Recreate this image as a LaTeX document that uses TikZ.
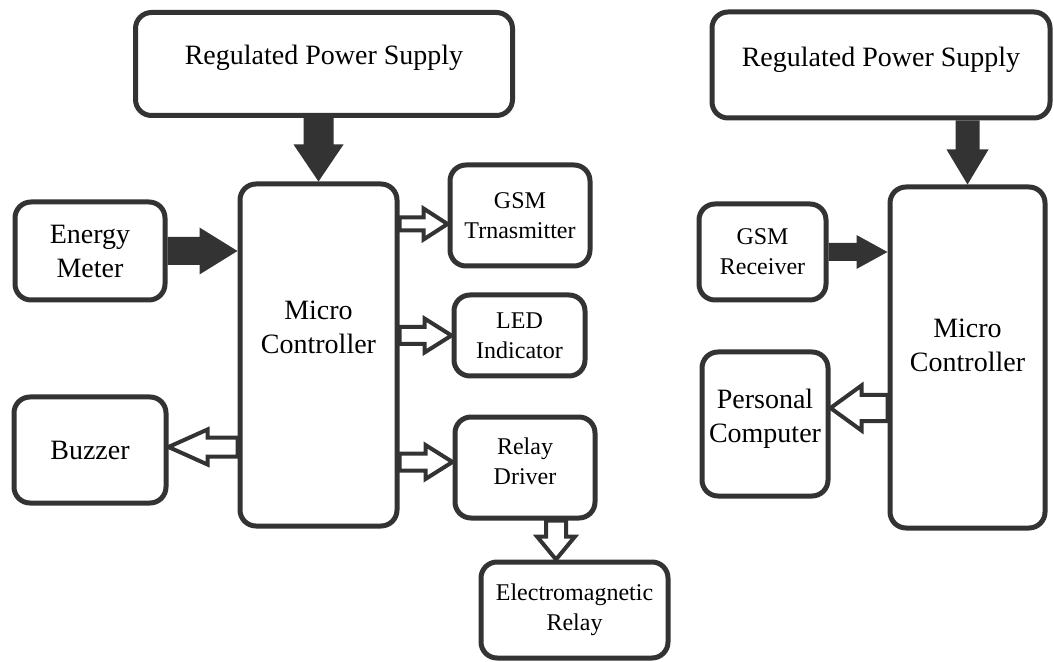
\documentclass[tikz,border=0pt]{standalone}
\usepackage{fontspec}
\setmainfont{LiberationSerif}[Extension=.ttf, UprightFont=*-Regular, BoldFont=*-Bold]
\usetikzlibrary{calc,positioning}
\definecolor{ink}{HTML}{333333}
\tikzset{
  box/.style={draw=ink, line width=2.5pt, rounded corners=8pt, align=center,
    inner sep=0pt, text=black},
  bigtxt/.style={font=\fontsize{14}{17}\selectfont},
  smalltxt/.style={font=\fontsize{12}{15}\selectfont},
  % #1 half shaft, #2 half head, #3 head length
  blockarrow/.style n args={3}{to path={
    ($(\tikztostart)!#1!90:(\tikztotarget)$)
    -- ($(\tikztotarget)!#3!(\tikztostart)!#1!90:(\tikztotarget)$)
    -- ($(\tikztotarget)!#3!(\tikztostart)!#2!90:(\tikztotarget)$)
    -- (\tikztotarget)
    -- ($(\tikztotarget)!#3!(\tikztostart)!#2!-90:(\tikztotarget)$)
    -- ($(\tikztotarget)!#3!(\tikztostart)!#1!-90:(\tikztotarget)$)
    -- ($(\tikztostart)!#1!-90:(\tikztotarget)$) -- cycle}},
  hollow/.style={draw=ink, fill=white, line width=2pt, line join=miter},
}

\begin{document}
\begin{tikzpicture}[x=0.5pt, y=-0.5pt]
\useasboundingbox (0,0) rectangle (1054,662);
% Transmitter side
\node[box, bigtxt, minimum width=188.5pt, minimum height=51.5pt, text depth=9pt]
  (rpsL) at (324,64) {Regulated Power Supply};
\node[box, bigtxt, minimum width=78.5pt, minimum height=171pt, text depth=28pt]
  (mcuL) at (318.5,355) {Micro\\Controller};
\node[box, bigtxt, minimum width=75pt, minimum height=49pt]
  (emeter) at (90,251) {Energy\\Meter};
\node[box, bigtxt, minimum width=76pt, minimum height=53pt]
  (buzzer) at (90,450) {Buzzer};
\node[box, smalltxt, minimum width=70pt, minimum height=50.5pt]
  (gsmtx) at (520,215.5) {GSM\\Trnasmitter};
\node[box, smalltxt, minimum width=65.5pt, minimum height=40.5pt]
  (led) at (519.5,335.5) {LED\\Indicator};
\node[box, smalltxt, minimum width=70pt, minimum height=50.5pt, text depth=6pt]
  (relayd) at (525,467.5) {Relay\\Driver};
\node[box, smalltxt, minimum width=93.5pt, minimum height=48pt]
  (emrelay) at (574.5,610) {Electromagnetic\\Relay};
% Receiver side
\node[box, bigtxt, minimum width=169pt, minimum height=53pt, text depth=8pt]
  (rpsR) at (881,65) {Regulated Power Supply};
\node[box, bigtxt, minimum width=77.5pt, minimum height=170.5pt, text depth=12pt]
  (mcuR) at (967.5,357.5) {Micro\\Controller};
\node[box, smalltxt, minimum width=63.5pt, minimum height=48pt]
  (gsmrx) at (762.5,252) {GSM\\Receiver};
\node[box, bigtxt, minimum width=63pt, minimum height=72pt, text depth=8pt]
  (pc) at (765,424) {Personal\\Computer};
% Arrow ends
\coordinate (gsmin) at ([yshift=-4.25pt]gsmtx.west);
\coordinate (rdin) at ([yshift=2.75pt]relayd.west);
\coordinate (bzin) at ([yshift=1.5pt]buzzer.east);
\coordinate (rdout) at ([xshift=15.5pt]relayd.south);
\coordinate (emin) at (rdout |- emrelay.north);
\coordinate (pcin) at ([yshift=8pt]pc.east);
% Solid arrows
\fill[ink, blockarrow={7.5pt}{12.5pt}{18.5pt}] (mcuL.north |- rpsL.south) to (mcuL.north);
\fill[ink, blockarrow={7pt}{11.75pt}{19pt}] (emeter.east) to (emeter.east -| mcuL.west);
\fill[ink, blockarrow={6pt}{10.5pt}{17.5pt}] (mcuR.north |- rpsR.south) to (mcuR.north);
\fill[ink, blockarrow={4.5pt}{8.5pt}{15.5pt}] (gsmrx.east) to (gsmrx.east -| mcuR.west);
% Hollow arrows
\draw[hollow, blockarrow={3.25pt}{7.75pt}{12pt}] (mcuL.east |- gsmin) to (gsmin);
\draw[hollow, blockarrow={4.25pt}{8.5pt}{13.5pt}] (mcuL.east |- led.west) to (led.west);
\draw[hollow, blockarrow={4.25pt}{8.5pt}{13.5pt}] (mcuL.east |- rdin) to (rdin);
\draw[hollow, blockarrow={4.75pt}{8.75pt}{19.5pt}] (mcuL.west |- bzin) to (bzin);
\draw[hollow, blockarrow={5pt}{9.5pt}{11.5pt}] (rdout) to (emin);
\draw[hollow, blockarrow={6.5pt}{11.25pt}{15.5pt}] (mcuR.west |- pcin) to (pcin);
\end{tikzpicture}
\end{document}
